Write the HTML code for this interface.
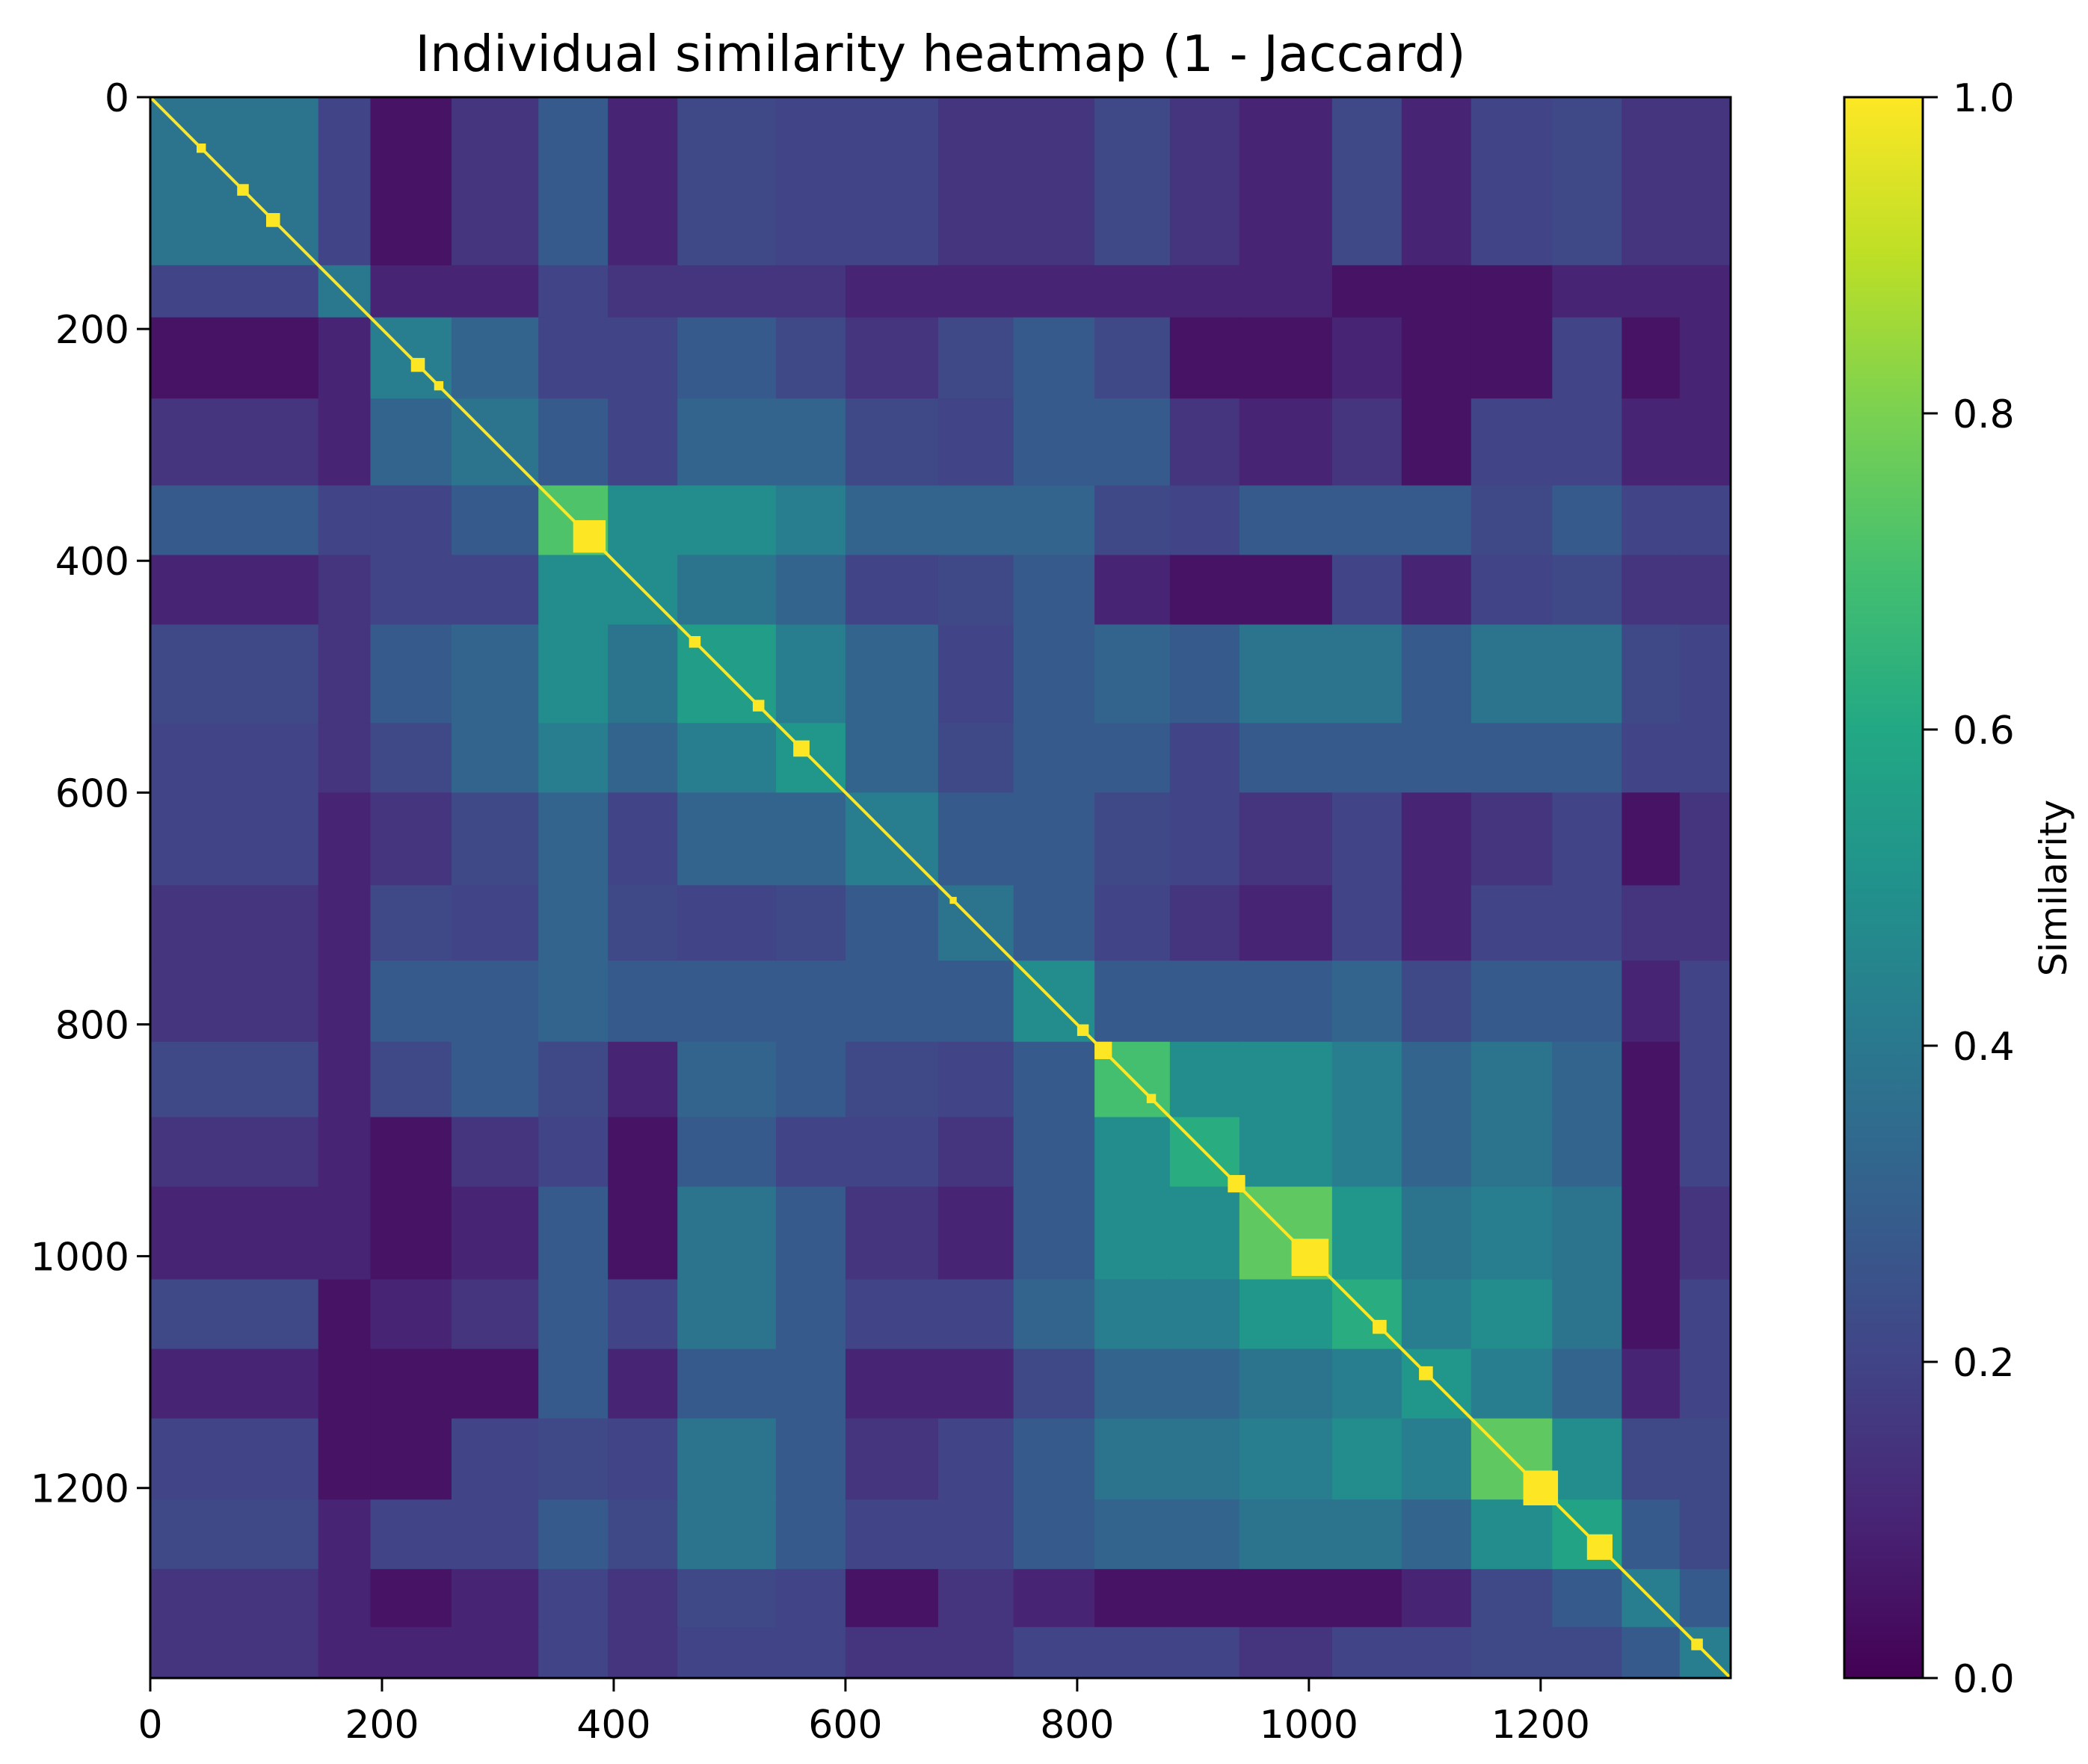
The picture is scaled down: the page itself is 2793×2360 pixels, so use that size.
<!DOCTYPE html>
<html><head><meta charset="utf-8">
<style>
html,body{margin:0;padding:0;background:#fff;}
svg{display:block;font-family:"DejaVu Sans","Liberation Sans",sans-serif;}
</style></head>
<body>
<svg id="chart" width="2793" height="2360" viewBox="0 0 2793 2360" xmlns="http://www.w3.org/2000/svg">
<defs>
<linearGradient id="vir" x1="0" y1="1" x2="0" y2="0">
<stop offset="0" stop-color="#440154"/><stop offset="0.1" stop-color="#482475"/><stop offset="0.2" stop-color="#414487"/><stop offset="0.3" stop-color="#355f8d"/><stop offset="0.4" stop-color="#2a788e"/><stop offset="0.5" stop-color="#21918c"/><stop offset="0.6" stop-color="#22a884"/><stop offset="0.7" stop-color="#44bf70"/><stop offset="0.8" stop-color="#7ad151"/><stop offset="0.9" stop-color="#bddf26"/><stop offset="1" stop-color="#fde725"/>
</linearGradient>
</defs>
<text x="1258" y="95" font-size="67" text-anchor="middle" fill="#000">Individual similarity heatmap (1 - Jaccard)</text>
<g id="cells"></g>
<g id="diag"></g>
<rect x="201" y="130" width="2114" height="2115" fill="none" stroke="#000" stroke-width="3"/>
<g id="axes"></g>
<rect x="2467" y="130" width="105" height="2115" fill="url(#vir)" stroke="#000" stroke-width="3"/>
<g id="cbticks"></g>
<text x="0" y="0" font-size="50" text-anchor="middle" transform="translate(2764,1188) rotate(-90)" fill="#000">Similarity</text>
</svg>
<script>
const N = 1364;
const groupStarts = [0,145,190,260,335,395,455,540,600,680,745,815,880,940,1020,1080,1140,1210,1270,1320];
const simRows = [
[0.38,0.2,0.05,0.15,0.28,0.1,0.22,0.2,0.2,0.15,0.15,0.22,0.15,0.1,0.22,0.1,0.2,0.22,0.15,0.15],
[0.4,0.1,0.1,0.2,0.15,0.15,0.15,0.1,0.1,0.1,0.1,0.1,0.1,0.05,0.05,0.05,0.1,0.1,0.1],
[0.42,0.32,0.2,0.2,0.28,0.22,0.15,0.22,0.28,0.22,0.05,0.05,0.1,0.05,0.05,0.2,0.05,0.1],
[0.38,0.28,0.2,0.32,0.32,0.22,0.2,0.28,0.28,0.15,0.1,0.15,0.05,0.2,0.2,0.1,0.1],
[0.72,0.48,0.48,0.42,0.32,0.32,0.32,0.22,0.2,0.28,0.28,0.28,0.22,0.28,0.2,0.2],
[0.48,0.38,0.32,0.2,0.22,0.28,0.1,0.05,0.05,0.2,0.1,0.2,0.22,0.15,0.15],
[0.55,0.42,0.32,0.2,0.28,0.32,0.28,0.38,0.38,0.28,0.38,0.38,0.22,0.2],
[0.52,0.32,0.22,0.28,0.28,0.2,0.28,0.28,0.28,0.28,0.28,0.2,0.2],
[0.42,0.28,0.28,0.22,0.2,0.15,0.2,0.1,0.15,0.2,0.05,0.15],
[0.38,0.28,0.2,0.15,0.1,0.2,0.1,0.2,0.2,0.15,0.15],
[0.48,0.28,0.28,0.28,0.32,0.22,0.28,0.28,0.1,0.2],
[0.7,0.48,0.48,0.42,0.32,0.38,0.32,0.05,0.2],
[0.62,0.48,0.42,0.32,0.38,0.32,0.05,0.2],
[0.75,0.52,0.38,0.42,0.38,0.05,0.15],
[0.62,0.42,0.48,0.38,0.05,0.2],
[0.52,0.42,0.32,0.1,0.2],
[0.75,0.48,0.22,0.22],
[0.58,0.28,0.22],
[0.42,0.28],
[0.42]
];
const brightStarts = [40,75,100,225,245,365,465,520,555,690,800,815,860,930,985,1055,1095,1185,1240,1330];
const brightSizes  = [8,10,12,12,8,28,10,10,14,6,10,15,8,15,32,12,12,30,22,10];
const tickVals = [0,200,400,600,800,1000,1200];
const tickLabels = ["0","200","400","600","800","1000","1200"];
const cbVals = [0,0.2,0.4,0.6,0.8,1.0];
const cbLabels = ["0.0","0.2","0.4","0.6","0.8","1.0"];

const X0=201, X1=2315, Y0=130, Y1=2245;
const sx = v => X0 + v/N*(X1-X0);
const sy = v => Y0 + v/N*(Y1-Y0);
const cy = v => Y1 - v*(Y1-Y0);
const stops=[[68,1,84],[72,36,117],[65,68,135],[53,95,141],[42,120,142],[33,145,140],[34,168,132],[68,191,112],[122,209,81],[189,223,38],[253,231,37]];
function viridis(t){t=Math.max(0,Math.min(1,t))*10;const i=Math.min(9,Math.floor(t)),f=t-i;const a=stops[i],b=stops[i+1];
return `rgb(${Math.round(a[0]+(b[0]-a[0])*f)},${Math.round(a[1]+(b[1]-a[1])*f)},${Math.round(a[2]+(b[2]-a[2])*f)})`;}
function sim(i,j){ if(j<i){const t=i;i=j;j=t;} return simRows[i][j-i]; }
const NS="http://www.w3.org/2000/svg";
const cells=document.getElementById('cells');
const G=groupStarts.length;
for(let i=0;i<G;i++){for(let j=0;j<G;j++){
 const a=groupStarts[i], b=(i+1<G?groupStarts[i+1]:N);
 const c=groupStarts[j], d=(j+1<G?groupStarts[j+1]:N);
 const r=document.createElementNS(NS,'rect');
 r.setAttribute('x',sx(c));r.setAttribute('y',sy(a));
 r.setAttribute('width',sx(d)-sx(c)+0.5);r.setAttribute('height',sy(b)-sy(a)+0.5);
 r.setAttribute('fill',viridis(sim(i,j)));
 
 
 cells.appendChild(r);
}}
const diag=document.getElementById('diag');
const ln=document.createElementNS(NS,'line');
ln.setAttribute('x1',sx(0));ln.setAttribute('y1',sy(0));ln.setAttribute('x2',sx(N));ln.setAttribute('y2',sy(N));
ln.setAttribute('stroke','#fde725');ln.setAttribute('stroke-width','4');


diag.appendChild(ln);
for(let k=0;k<brightStarts.length;k++){
 const r=document.createElementNS(NS,'rect');
 r.setAttribute('x',sx(brightStarts[k]));r.setAttribute('y',sy(brightStarts[k]));
 r.setAttribute('width',sx(brightSizes[k])-X0);r.setAttribute('height',sy(brightSizes[k])-Y0);
 r.setAttribute('fill','#fde725');
 
 
 diag.appendChild(r);
}
const axes=document.getElementById('axes');
function mk(tag,attrs,txt){const e=document.createElementNS(NS,tag);for(const k in attrs)e.setAttribute(k,attrs[k]);if(txt!==undefined)e.textContent=txt;return e;}
tickVals.forEach((v,k)=>{
 const xt=mk('line',{x1:sx(v),x2:sx(v),y1:Y1,y2:Y1+18,stroke:'#000','stroke-width':3});
 
 
 axes.appendChild(xt);
 const xl=mk('text',{x:sx(v),y:2325,'font-size':52,'text-anchor':'middle',fill:'#000'},tickLabels[k]);
 
 
 axes.appendChild(xl);
 const yt=mk('line',{x1:X0-18,x2:X0,y1:sy(v),y2:sy(v),stroke:'#000','stroke-width':3});
 
 
 axes.appendChild(yt);
 const yl=mk('text',{x:X0-28,y:sy(v)+19,'font-size':52,'text-anchor':'end',fill:'#000'},tickLabels[k]);
 
 
 axes.appendChild(yl);
});
const cbt=document.getElementById('cbticks');
cbVals.forEach((v,k)=>{
 const t=mk('line',{x1:2572,x2:2592,y1:cy(v),y2:cy(v),stroke:'#000','stroke-width':3});
 
 
 cbt.appendChild(t);
 const l=mk('text',{x:2612,y:cy(v)+19,'font-size':52,fill:'#000'},cbLabels[k]);
 
 
 cbt.appendChild(l);
});
</script>
</body></html>
